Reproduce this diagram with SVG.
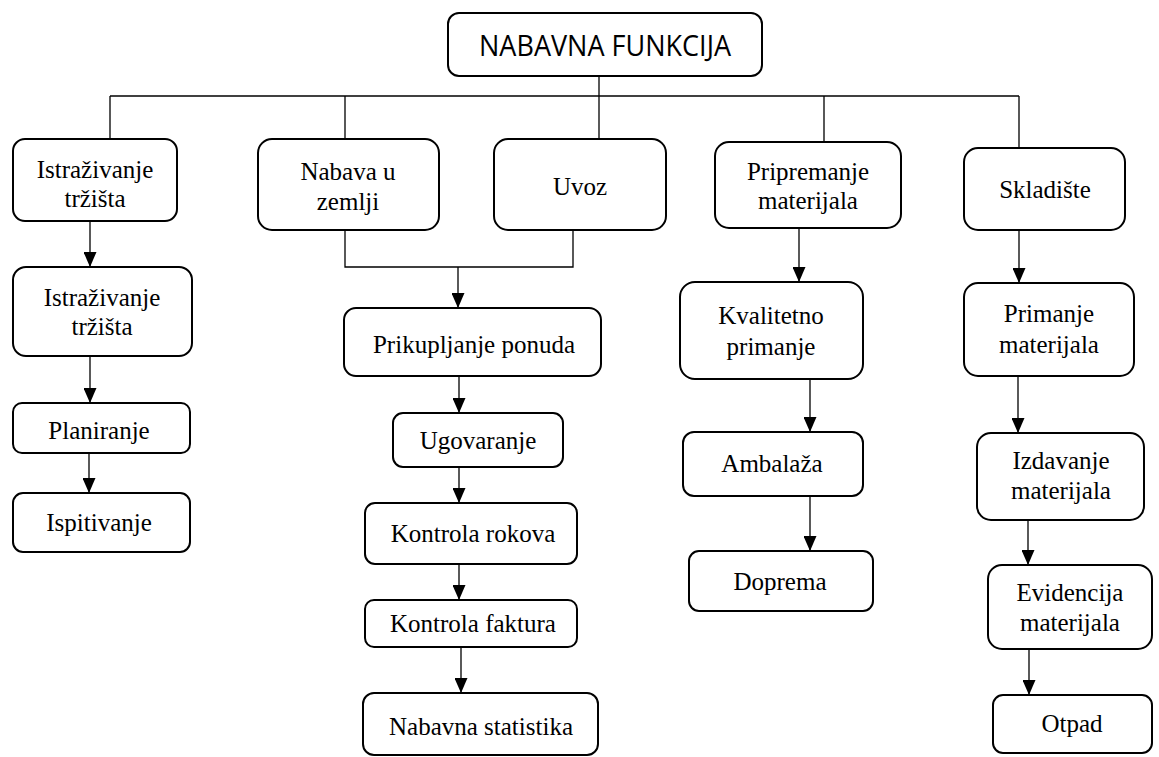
<svg xmlns="http://www.w3.org/2000/svg" width="1159" height="757" viewBox="0 0 1159 757">
<defs>
<style>
.box{fill:#fff;stroke:#000;stroke-width:2}
.c{fill:none;stroke:#000;stroke-width:1.3}
.t{font-family:"Liberation Serif","Times New Roman",serif;font-size:25px;text-anchor:middle;fill:#000}
.title{font-family:"Open Sans","Liberation Sans",sans-serif;font-size:29px;text-anchor:middle;fill:#000}
</style>
<marker id="ah" markerUnits="userSpaceOnUse" viewBox="0 0 13 15" markerWidth="13" markerHeight="15" refX="6.5" refY="15" orient="0">
<path d="M0,0 L13,0 L6.5,15 z" fill="#000"/>
</marker>
</defs>
<rect width="1159" height="757" fill="#fff"/>
<g id="connectors">
<path class="c" d="M599,76 V139"/>
<path class="c" d="M110,96 H1019"/>
<path class="c" d="M110,96 V139 M345,96 V139 M824,96 V142 M1019,96 V148"/>
<path class="c" d="M90,221 V267" marker-end="url(#ah)"/>
<path class="c" d="M90,356 V403" marker-end="url(#ah)"/>
<path class="c" d="M89,453 V493" marker-end="url(#ah)"/>
<path class="c" d="M345,230 V267 H573 V230"/>
<path class="c" d="M458,267 V308" marker-end="url(#ah)"/>
<path class="c" d="M459,376 V413" marker-end="url(#ah)"/>
<path class="c" d="M459,467 V503" marker-end="url(#ah)"/>
<path class="c" d="M459,564 V600" marker-end="url(#ah)"/>
<path class="c" d="M461,647 V693" marker-end="url(#ah)"/>
<path class="c" d="M799,228 V282" marker-end="url(#ah)"/>
<path class="c" d="M810,379 V432" marker-end="url(#ah)"/>
<path class="c" d="M810,496 V551" marker-end="url(#ah)"/>
<path class="c" d="M1019,230 V283" marker-end="url(#ah)"/>
<path class="c" d="M1018,376 V433" marker-end="url(#ah)"/>
<path class="c" d="M1028,520 V565" marker-end="url(#ah)"/>
<path class="c" d="M1029,649 V695" marker-end="url(#ah)"/>
</g>
<g id="n-title"><rect class="box" x="448" y="13" width="314" height="63" rx="11"/><text class="title" x="605" y="56" textLength="252" lengthAdjust="spacingAndGlyphs">NABAVNA FUNKCIJA</text></g>
<g id="n-istr1"><rect class="box" x="13" y="139" width="164" height="82" rx="12"/><text class="t" x="95" y="178">Istraživanje</text><text class="t" x="95" y="207">tržišta</text></g>
<g id="n-istr2"><rect class="box" x="13" y="267" width="179" height="89" rx="13"/><text class="t" x="102" y="306">Istraživanje</text><text class="t" x="102" y="335">tržišta</text></g>
<g id="n-plan"><rect class="box" x="13" y="403" width="177" height="50" rx="9"/><text class="t" x="99" y="439">Planiranje</text></g>
<g id="n-ispit"><rect class="box" x="13" y="493" width="177" height="59" rx="10"/><text class="t" x="99" y="531">Ispitivanje</text></g>
<g id="n-nabava"><rect class="box" x="258" y="139" width="181" height="91" rx="14"/><text class="t" x="348" y="180">Nabava u</text><text class="t" x="348" y="210">zemlji</text></g>
<g id="n-uvoz"><rect class="box" x="494" y="139" width="172" height="91" rx="14"/><text class="t" x="580" y="195">Uvoz</text></g>
<g id="n-pripr"><rect class="box" x="715" y="142" width="186" height="86" rx="14"/><text class="t" x="808" y="180">Pripremanje</text><text class="t" x="808" y="209">materijala</text></g>
<g id="n-sklad"><rect class="box" x="964" y="148" width="161" height="82" rx="14"/><text class="t" x="1045" y="198">Skladište</text></g>
<g id="n-prik"><rect class="box" x="344" y="308" width="257" height="68" rx="12"/><text class="t" x="474" y="353">Prikupljanje ponuda</text></g>
<g id="n-ugov"><rect class="box" x="393" y="413" width="170" height="54" rx="10"/><text class="t" x="478" y="449">Ugovaranje</text></g>
<g id="n-krok"><rect class="box" x="365" y="503" width="212" height="61" rx="10"/><text class="t" x="473" y="542">Kontrola rokova</text></g>
<g id="n-kfak"><rect class="box" x="365" y="600" width="212" height="47" rx="9"/><text class="t" x="473" y="632">Kontrola faktura</text></g>
<g id="n-stat"><rect class="box" x="363" y="693" width="235" height="62" rx="11"/><text class="t" x="481" y="735">Nabavna statistika</text></g>
<g id="n-kval"><rect class="box" x="680" y="282" width="183" height="97" rx="15"/><text class="t" x="771" y="324">Kvalitetno</text><text class="t" x="771" y="355">primanje</text></g>
<g id="n-amb"><rect class="box" x="683" y="432" width="180" height="64" rx="11"/><text class="t" x="772" y="472">Ambalaža</text></g>
<g id="n-dopr"><rect class="box" x="689" y="551" width="184" height="60" rx="10"/><text class="t" x="780" y="590">Doprema</text></g>
<g id="n-prim"><rect class="box" x="964" y="283" width="170" height="93" rx="14"/><text class="t" x="1049" y="322">Primanje</text><text class="t" x="1049" y="353">materijala</text></g>
<g id="n-izd"><rect class="box" x="977" y="433" width="167" height="87" rx="14"/><text class="t" x="1061" y="469">Izdavanje</text><text class="t" x="1061" y="499">materijala</text></g>
<g id="n-evid"><rect class="box" x="988" y="565" width="164" height="84" rx="14"/><text class="t" x="1070" y="601">Evidencija</text><text class="t" x="1070" y="631">materijala</text></g>
<g id="n-otpad"><rect class="box" x="993" y="695" width="159" height="58" rx="10"/><text class="t" x="1072" y="732">Otpad</text></g>
</svg>
